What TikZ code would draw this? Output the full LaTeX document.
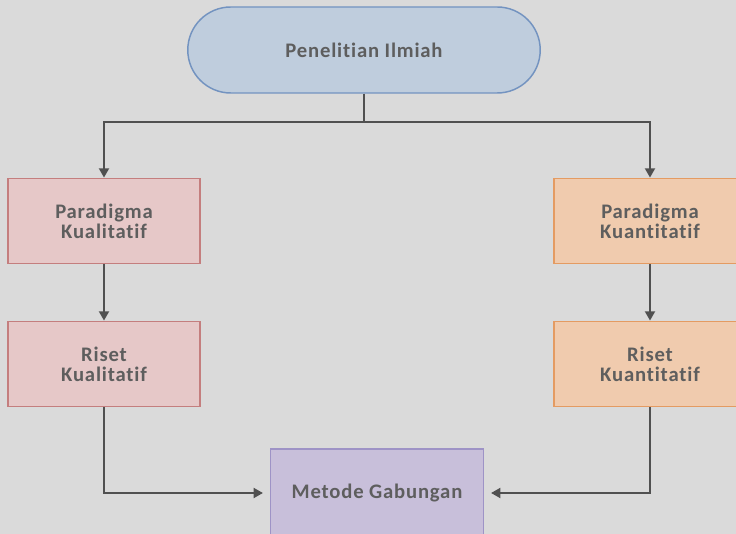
\documentclass[tikz,border=0pt]{standalone}
\usepackage{fontspec}
\setmainfont{Carlito}[Ligatures={NoCommon,NoRequired,NoContextual},LetterSpace=4]
\usetikzlibrary{arrows.meta,shapes.misc}
\definecolor{bg}{HTML}{DADADA}
\definecolor{txt}{HTML}{5E5E5E}
\definecolor{ln}{HTML}{505050}
\definecolor{bluefill}{HTML}{BFCDDD}
\definecolor{blueline}{HTML}{7393C0}
\definecolor{pinkfill}{HTML}{E6C8C8}
\definecolor{pinkline}{HTML}{C47E7E}
\definecolor{orfill}{HTML}{F0CBAE}
\definecolor{orline}{HTML}{E49B62}
\definecolor{purfill}{HTML}{C8BFDA}
\definecolor{purline}{HTML}{9E93C6}
\tikzset{
  lbl/.style={font=\bfseries\fontsize{15.5}{15}\selectfont, text=txt, align=center},
  stadium/.style={lbl, rounded rectangle, draw=blueline, fill=bluefill, line width=1.1pt,
    minimum width=271pt, minimum height=64.5pt},
  qualbox/.style={lbl, rectangle, draw=pinkline, fill=pinkfill, line width=1.1pt,
    minimum width=144pt, minimum height=64pt},
  quanbox/.style={lbl, rectangle, draw=orline, fill=orfill, line width=1.1pt,
    minimum width=144pt, minimum height=64pt},
  mixbox/.style={lbl, rectangle, draw=purline, fill=purfill, line width=1.1pt,
    minimum width=160pt, minimum height=66pt},
  conn/.style={draw=ln, line width=1.5pt},
  arr/.style={conn, -{Triangle[length=7pt,width=7.5pt]}},
}
\begin{document}
\begin{tikzpicture}[x=0.75pt,y=-0.75pt]
\fill[bg] (0,0) rectangle (736,534);
\useasboundingbox (0,0) rectangle (736,534);
\clip (0,0) rectangle (736,534);
\node[stadium] (top) at (364,50) {Penelitian Ilmiah};
\node[qualbox] (pk) at (104,221) {Paradigma\\Kualitatif};
\node[qualbox] (rk) at (104,364) {Riset\\Kualitatif};
\node[quanbox] (pq) at (650,221) {Paradigma\\Kuantitatif};
\node[quanbox] (rq) at (650,364) {Riset\\Kuantitatif};
\node[mixbox] (mg) at (377,493) {Metode Gabungan};
\coordinate (j) at (364,122);
\draw[conn] (top.south) -- (j);
\draw[arr] (j) -| (pk.north);
\draw[arr] (j) -| (pq.north);
\draw[arr] (pk.south) -- (rk.north);
\draw[arr] (pq.south) -- (rq.north);
\draw[arr, shorten >=5pt] (rk.south) |- (mg.west);
\draw[arr, shorten >=5pt] (rq.south) |- (mg.east);
\end{tikzpicture}
\end{document}
